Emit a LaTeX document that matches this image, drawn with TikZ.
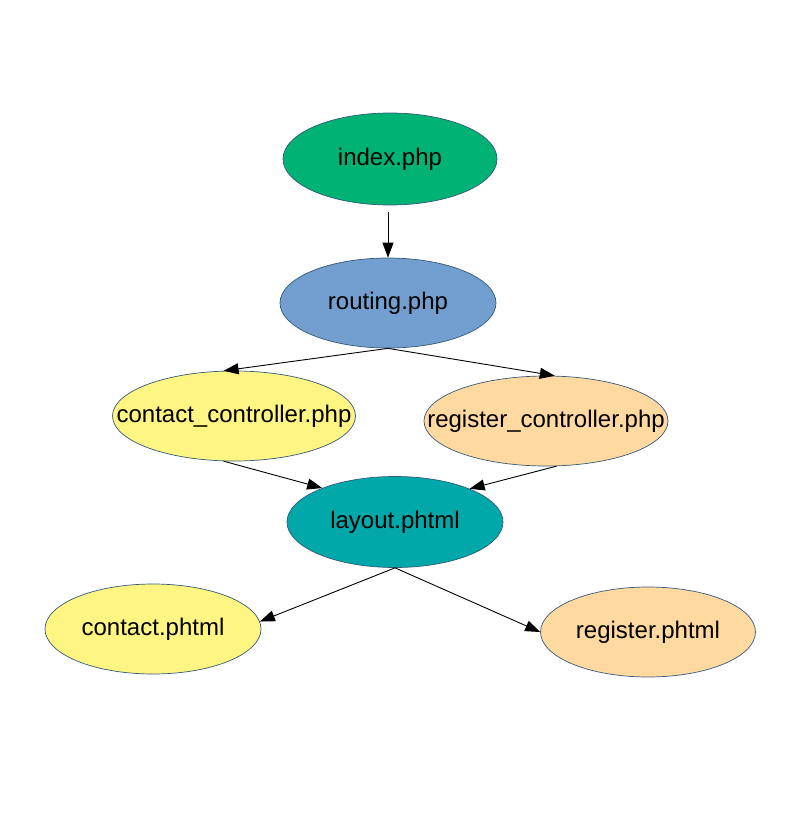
\documentclass[tikz,border=0pt]{standalone}
\usepackage{fontspec}
\setmainfont{Liberation Sans}
\usetikzlibrary{shapes.geometric,arrows.meta}
\definecolor{edgeblue}{RGB}{52,90,120}
\definecolor{indexgreen}{RGB}{0,178,115}
\definecolor{routeblue}{RGB}{114,159,207}
\definecolor{ctrlyellow}{RGB}{255,245,130}
\definecolor{ctrlorange}{RGB}{255,217,160}
\definecolor{layoutteal}{RGB}{0,168,170}
\newcommand{\fname}[1]{\makebox[0pt]{#1}}

\begin{document}
\begin{tikzpicture}[x=1pt,y=-1pt]
    \tikzset{%
      file/.style={ellipse, draw=edgeblue, line width=0.7pt, inner sep=0pt,
        minimum width=216pt, minimum height=90pt,
        font=\fontsize{24}{26}\selectfont},
      link/.style={-{Triangle[length=15pt,width=11pt]}, line width=0.9pt},
    }
    \useasboundingbox (0,0) rectangle (794,832);
    \node[file, fill=indexgreen, minimum width=214pt, minimum height=92pt] (I) at (390,159) {\fname{index.php}};
    \node[file, fill=routeblue] (R) at (388,303) {\fname{routing.php}};
    \node[file, fill=ctrlyellow, minimum width=243pt] (CC) at (234,416) {\fname{contact\_controller.php}};
    \node[file, fill=ctrlorange, minimum width=244pt] (RC) at (546,421) {\fname{register\_controller.php}};
    \node[file, fill=layoutteal, minimum height=91pt] (L) at (395,522) {\fname{layout.phtml}};
    \node[file, fill=ctrlyellow] (CP) at (153,629) {\fname{contact.phtml}};
    \node[file, fill=ctrlorange, minimum width=215pt] (RP) at (648,632) {\fname{register.phtml}};

    \draw [link, shorten <=7pt] (I.south -| R.north) -- (R.north);
    \draw [link] (R.south) -- (CC.103);
    \draw [link] (R.south) -- (RC.79);
    \draw [link] (CC.-103) -- (L.155);
    \draw [link] (RC.-77) -- (L.24);
    \draw [link] (L.south) -- (CP.4);
    \draw [link] (L.south) -- (RP.west);
\end{tikzpicture}
\end{document}
